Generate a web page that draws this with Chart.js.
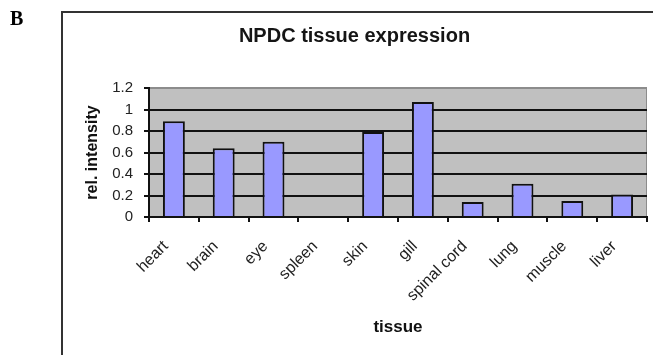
<!DOCTYPE html>
<html>
<head>
<meta charset="utf-8">
<script src="https://cdn.jsdelivr.net/npm/chart.js@4"></script>
<style>
  html, body { margin: 0; padding: 0; background: #ffffff; }
  #wrap { width: 653px; height: 355px; position: relative; }
</style>
</head>
<body>
<div id="wrap"><canvas id="chart" width="653" height="355"></canvas></div>
<script>
// Relative NPDC expression per tissue
const tissues = ['heart', 'brain', 'eye', 'spleen', 'skin', 'gill', 'spinal cord', 'lung', 'muscle', 'liver'];
const intensity = [0.89, 0.64, 0.70, 0, 0.79, 1.07, 0.14, 0.31, 0.15, 0.21];
const yTicks = [0, 0.2, 0.4, 0.6, 0.8, 1, 1.2];

const FONT = "'Liberation Sans', Arial, sans-serif";

// Panel letter, outer frame and grey plot background
const panelDecor = {
  id: 'panelDecor',
  beforeDraw(chart) {
    const { ctx, chartArea: a } = chart;
    ctx.save();
    ctx.fillStyle = '#c0c0c0';
    ctx.fillRect(a.left, a.top, a.right - a.left, a.bottom - a.top);
    ctx.strokeStyle = '#8c8c8c';
    ctx.lineWidth = 1;
    ctx.beginPath();
    ctx.moveTo(a.left, a.top + 0.5);
    ctx.lineTo(a.right - 0.5, a.top + 0.5);
    ctx.lineTo(a.right - 0.5, a.bottom);
    ctx.stroke();

    ctx.strokeStyle = '#333333';
    ctx.lineWidth = 2;
    ctx.beginPath();
    ctx.moveTo(62, 355);
    ctx.lineTo(62, 12);
    ctx.lineTo(653, 12);
    ctx.stroke();

    ctx.fillStyle = '#000000';
    ctx.font = "bold 20px 'Liberation Serif', 'Times New Roman', serif";
    ctx.textBaseline = 'alphabetic';
    ctx.fillText('B', 10, 25);
    ctx.restore();
  }
};

new Chart(document.getElementById('chart'), {
  type: 'bar',
  data: {
    labels: tissues,
    datasets: [{
      data: intensity,
      backgroundColor: '#9999ff',
      borderColor: '#111111',
      borderWidth: 2,
      barPercentage: 0.44,
      categoryPercentage: 1.0
    }]
  },
  options: {
    responsive: false,
    animation: false,
    devicePixelRatio: 1,
    layout: { padding: { left: 62, right: 6, top: 0, bottom: 0 } },
    plugins: {
      legend: { display: false },
      tooltip: { enabled: false },
      title: {
        display: true,
        text: 'NPDC tissue expression',
        color: '#151515',
        font: { family: FONT, size: 20, weight: 'bold' },
        padding: { top: 24, bottom: 40 }
      }
    },
    scales: {
      x: {
        grid: {
          offset: true,
          drawOnChartArea: false,
          drawTicks: true,
          tickLength: 5,
          tickColor: '#111111',
          lineWidth: 2
        },
        border: { display: true, color: '#111111', width: 2 },
        ticks: {
          minRotation: 45,
          maxRotation: 45,
          autoSkip: false,
          padding: 15,
          labelOffset: -8,
          color: '#222222',
          font: { family: FONT, size: 16 }
        },
        title: {
          display: true,
          text: 'tissue',
          color: '#111111',
          font: { family: FONT, size: 17, weight: 'bold' },
          padding: { top: 0, bottom: 17 }
        },
        afterFit(scale) { scale.height = 138; }
      },
      y: {
        min: 0,
        max: 1.2,
        afterBuildTicks(scale) { scale.ticks = yTicks.map(v => ({ value: v })); },
        grid: {
          color: ctx => (ctx.tick && ctx.tick.value === 1.2 ? '#8c8c8c' : '#111111'),
          tickColor: '#111111',
          lineWidth: 2,
          drawTicks: true,
          tickLength: 5
        },
        border: { display: true, color: '#111111', width: 2 },
        ticks: {
          padding: 11,
          color: '#222222',
          font: { family: FONT, size: 15 },
          callback: v => String(v)
        },
        title: {
          display: true,
          text: 'rel. intensity',
          color: '#111111',
          font: { family: FONT, size: 16, weight: 'bold' },
          padding: { top: 21, bottom: 0 }
        },
        afterFit(scale) { scale.width = 87; }
      }
    }
  },
  plugins: [panelDecor]
});
</script>
</body>
</html>
